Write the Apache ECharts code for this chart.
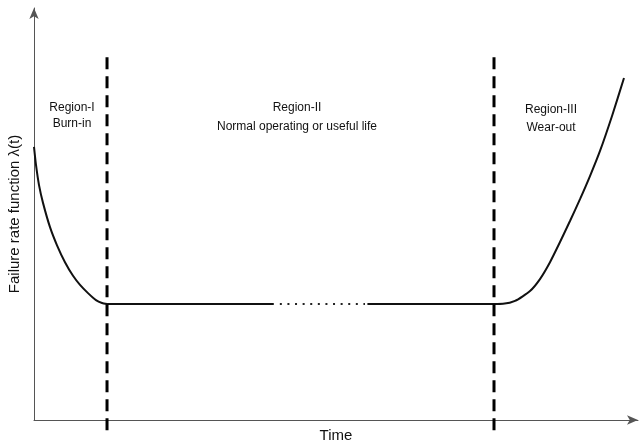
<!DOCTYPE html>
<html><head><meta charset="utf-8">
<script src="https://cdn.jsdelivr.net/npm/echarts@6/dist/echarts.min.js"></script>
<style>html,body{margin:0;padding:0;background:#fff}#c{width:640px;height:444px}</style>
</head><body><div id="c"></div>
<script>
// Bathtub curve (data units: time 0-100, failure rate 0-100)
const burnInX = [0, 0.33, 0.83, 1.49, 2.65, 3.81, 5.13, 6.46, 7.62, 8.94, 10.26, 11.26, 12.09];
const burnInY = [66.3, 61.9, 57.0, 52.7, 46.8, 42.4, 38.3, 35.0, 32.8, 30.8, 29.1, 28.4, 28.16];
const flatLevel = 28.16;
const usefulSolidA = [12.09, 39.7];
const usefulDotted = [40.7, 54.8];
const usefulSolidB = [55.2, 76.16];
const wearOutX = [76.16, 77.65, 79.64, 82.12, 83.77, 85.43, 87.09, 88.74, 90.40, 92.05, 93.71, 95.70, 97.68];
const wearOutY = [28.16, 28.2, 28.9, 31.3, 34.2, 38.3, 43.2, 48.3, 53.6, 59.2, 65.3, 73.8, 83.0];
const boundaryX = [12.09, 76.16];
const boundaryY = [-2.5, 88.6];
const regionTitles = ['Region-I', 'Region-II', 'Region-III'];
const regionSubtitles = ['Burn-in', 'Normal operating or useful life', 'Wear-out'];
const xName = 'Time';
const yName = 'Failure rate function \u03bb(t)';

const zip = (xs, ys) => xs.map((x, i) => [x, ys[i]]);
const font = '"Liberation Sans", Arial, sans-serif';
const chart = echarts.init(document.getElementById('c'), null, {renderer: 'canvas'});
const axisCommon = {
  type: 'value', min: 0, max: 100,
  axisLine: {show: true, lineStyle: {color: '#555', width: 1}, symbol: ['none', 'arrow'], symbolSize: [7, 11]},
  axisTick: {show: false}, axisLabel: {show: false}, splitLine: {show: false},
  nameLocation: 'middle',
  nameTextStyle: {color: '#111', fontFamily: font, fontSize: 15}
};
const curveStyle = {color: '#111', width: 2};
const series = [
  {type: 'line', data: zip(burnInX, burnInY), smooth: 0.2, symbol: 'none', lineStyle: curveStyle},
  {type: 'line', data: usefulSolidA.map(x => [x, flatLevel]), symbol: 'none', lineStyle: curveStyle},
  {type: 'line', data: usefulDotted.map(x => [x, flatLevel]), symbol: 'none', lineStyle: {color: '#222', width: 2.2, type: [2, 5.6]}},
  {type: 'line', data: usefulSolidB.map(x => [x, flatLevel]), symbol: 'none', lineStyle: curveStyle},
  {type: 'line', data: zip(wearOutX, wearOutY), smooth: 0.2, symbol: 'none', lineStyle: curveStyle}
];
boundaryX.forEach(bx => series.push({
  type: 'line', clip: false, symbol: 'none', z: 5,
  data: boundaryY.map(y => [bx, y]),
  lineStyle: {color: '#000', width: 3, type: [12, 7]}
}));
const labelPos = [[72, 108, 124], [297, 108, 127], [551, 110, 128]];
const graphic = [];
regionTitles.forEach((t, i) => {
  graphic.push({type: 'text', x: labelPos[i][0], y: labelPos[i][1], style: {text: t, fill: '#111', font: '12px ' + font, textAlign: 'center', textVerticalAlign: 'middle'}});
  graphic.push({type: 'text', x: labelPos[i][0], y: labelPos[i][2], style: {text: regionSubtitles[i], fill: '#111', font: '12px ' + font, textAlign: 'center', textVerticalAlign: 'middle'}});
});
chart.setOption({
  animation: false,
  grid: {left: 34, right: 2, top: 8, bottom: 24, containLabel: false, outerBoundsMode: 'none'},
  xAxis: Object.assign({}, axisCommon, {name: xName, nameGap: 8}),
  yAxis: Object.assign({}, axisCommon, {name: yName, nameGap: 12}),
  series: series,
  graphic: graphic
});
</script></body></html>
